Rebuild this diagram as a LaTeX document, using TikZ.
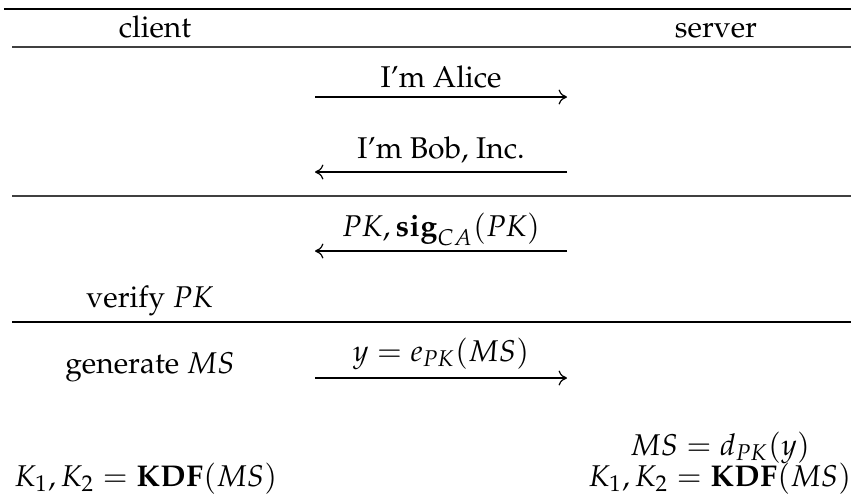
\documentclass[tikz,border=0pt]{standalone}
\usepackage[T1]{fontenc}
\usepackage{mathpazo}
\usetikzlibrary{arrows.meta}

\begin{document}
\begin{tikzpicture}[
    x=0.3333pt, y=-0.3333pt,
    txt/.style={anchor=base, inner sep=0pt, font=\normalsize},
    msg/.style={line width=0.4pt, -{Computer Modern Rightarrow[length=2.8pt, width=5pt]}},
    rule/.style={line width=0.45pt, black!75}
]
\useasboundingbox (0,0) rectangle (851,495);

% --- Columns ---
\def\cL{150}   % client column
\def\cM{441}   % message column
\def\cR{720}   % server column
\def\aL{315}   % arrow left end
\def\aR{567}   % arrow right end

% --- Rules ---
\draw[line width=0.8pt] (4,9) -- (851,9);
\draw[rule] (12,47) -- (851,47);
\draw[rule] (12,196) -- (851,196);
\draw[rule, black] (12,322) -- (851,322);

% --- Header ---
\node[txt] (client) at (155,37) {client};
\node[txt] (server) at (716,37) {server};

% --- Messages ---
\node[txt] (alice) at (\cM,87) {I'm Alice};
\coordinate (m1l) at (\aL,97);
\coordinate (m1r) at (\aR,97);
\draw[msg] (m1l) -- (m1r);

\node[txt] (bob) at (\cM,158) {I'm Bob, Inc.};
\coordinate (m2l) at (\aL,172);
\coordinate (m2r) at (\aR,172);
\draw[msg] (m2r) -- (m2l);

\node[txt] (cert) at (\cM,236) {$PK, \mathbf{sig}_{CA}(PK)$};
\coordinate (m3l) at (\aL,251);
\coordinate (m3r) at (\aR,251);
\draw[msg] (m3r) -- (m3l);

\node[txt] (enc) at (\cM,361) {$y = e_{PK}(MS)$};
\coordinate (m4l) at (\aL,378);
\coordinate (m4r) at (\aR,378);
\draw[msg] (m4l) -- (m4r);

% --- Client side ---
\node[txt] (verify) at (\cL,307) {verify $PK$};
\node[txt] (gen) at (\cL,373) {generate $MS$};
\node[txt] (kdfc) at (146,486) {$K_1, K_2 = \mathbf{KDF}(MS)$};

% --- Server side ---
\node[txt] (dec) at (\cR,455) {$MS = d_{PK}(y)$};
\node[txt] (kdfs) at (\cR,486) {$K_1, K_2 = \mathbf{KDF}(MS)$};

\end{tikzpicture}
\end{document}
